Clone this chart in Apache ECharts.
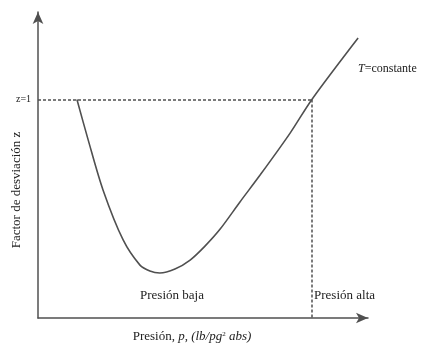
<!DOCTYPE html>
<html>
<head>
<meta charset="utf-8">
<script src="https://cdn.jsdelivr.net/npm/echarts@6/dist/echarts.min.js"></script>
<style>html,body{margin:0;padding:0;background:#fff}#c{width:425px;height:350px}</style>
</head>
<body>
<div id="c"></div>
<script>
// Pressure (relative units, 0-100) and z-factor
const pressure = [11.8, 15.2, 19.7, 25.8, 30.9, 33.9, 36.9, 41.5, 46.1, 50.6, 55.2, 61.2, 67.3, 76.4, 83.0, 97.0];
const zFactor  = [1.000, 0.815, 0.586, 0.357, 0.242, 0.215, 0.206, 0.224, 0.265, 0.329, 0.407, 0.531, 0.654, 0.846, 1.000, 1.281];
const refZ = 1;          // z = 1 reference
const refP = 83.0;       // boundary low / high pressure
const xMax = 100, yMax = 1.4;

const serif = '"Liberation Serif", "DejaVu Serif", serif';
const ink = '#505050';
const txt = '#222';

const chart = echarts.init(document.getElementById('c'), null, {renderer: 'canvas'});
chart.setOption({
  animation: false,
  backgroundColor: '#fff',
  grid: {left: 38, right: 57, top: 12, bottom: 32},
  xAxis: {
    type: 'value', min: 0, max: xMax,
    axisLine: {show: true, symbol: ['none', 'arrow'], symbolSize: [8, 12], lineStyle: {color: ink, width: 1.5}},
    axisTick: {show: false}, axisLabel: {show: false}, splitLine: {show: false}
  },
  yAxis: {
    type: 'value', min: 0, max: yMax,
    axisLine: {show: true, symbol: ['none', 'arrow'], symbolSize: [8, 12], lineStyle: {color: ink, width: 1.5}},
    axisTick: {show: false}, axisLabel: {show: false}, splitLine: {show: false}
  },
  series: [{
    type: 'line',
    data: pressure.map((p, i) => [p, zFactor[i]]),
    smooth: 0.3,
    showSymbol: false,
    lineStyle: {color: ink, width: 1.6},
    markLine: {
      silent: true, symbol: 'none',
      label: {show: false},
      lineStyle: {color: ink, type: [3, 2], width: 1.5},
      data: [
        [{coord: [0, refZ]}, {coord: [refP, refZ]}],
        [{coord: [refP, refZ]}, {coord: [refP, 0]}]
      ]
    }
  }],
  graphic: [
    {type: 'text', left: 16, top: 94, style: {text: 'z=1', font: '10px ' + serif, fill: txt}},
    {type: 'text', x: 17, y: 190, rotation: Math.PI / 2, style: {
      text: 'Factor de desviación z', font: '13px ' + serif, fill: txt, align: 'center', verticalAlign: 'middle'}},
    {type: 'text', x: 192, y: 337, style: {
      text: '{a|Presión, }{i|p}{a|, }{i|(lb/pg}{s|2}{i| abs)}',
      align: 'center', verticalAlign: 'middle',
      rich: {
        a: {fontFamily: serif, fontSize: 13, fill: txt},
        i: {fontFamily: serif, fontSize: 13, fontStyle: 'italic', fill: txt},
        s: {fontFamily: serif, fontSize: 7, fill: txt, verticalAlign: 'top'}
      }
    }},
    {type: 'text', left: 140, top: 289, style: {text: 'Presión baja', font: '13px ' + serif, fill: txt}},
    {type: 'text', left: 314, top: 289, style: {text: 'Presión alta', font: '13px ' + serif, fill: txt}},
    {type: 'text', left: 358, top: 63, style: {
      text: '{i|T}{a|=constante}',
      rich: {
        i: {fontFamily: serif, fontSize: 12, fontStyle: 'italic', fill: txt},
        a: {fontFamily: serif, fontSize: 12, fill: txt}
      }
    }}
  ]
});
</script>
</body>
</html>
